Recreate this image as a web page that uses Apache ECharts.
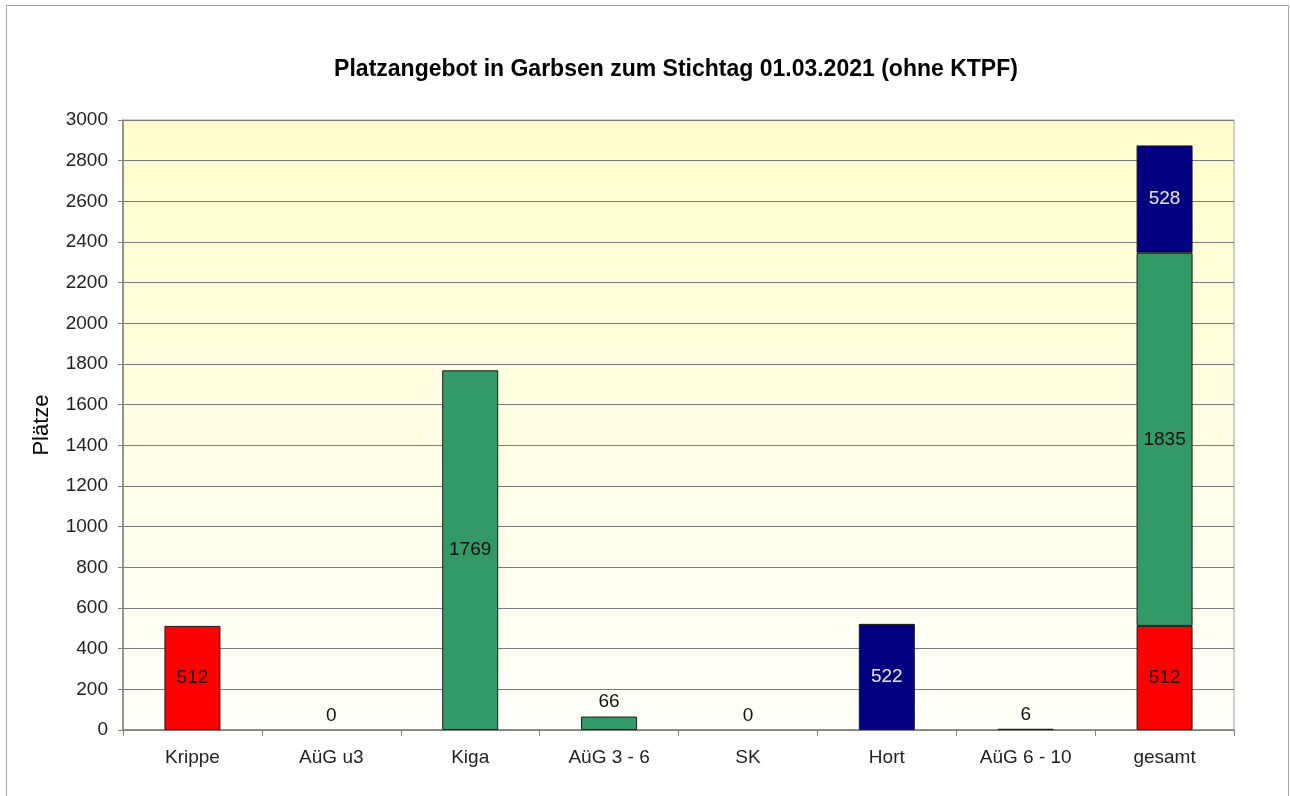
<!DOCTYPE html>
<html>
<head>
<meta charset="utf-8">
<script src="https://cdn.jsdelivr.net/npm/echarts@6/dist/echarts.min.js"></script>
<style>
	body { margin: 0; background: #fff; }
	#frame { position: absolute; left: 6px; top: 5px; width: 1281px; height: 800px; border: 1px solid #a6a6a6; }
	#main { position: absolute; left: 0; top: 0; width: 1290px; height: 796px; }
</style>
</head>
<body>
<div id="frame"></div>
<div id="main"></div>
<script>
// Kategorien und Werte
var categories = ['Krippe', 'AüG u3', 'Kiga', 'AüG 3 - 6', 'SK', 'Hort', 'AüG 6 - 10', 'gesamt'];
var u3Values = [512, 0, null, null, null, null, null, 512];
var kigaValues = [null, null, 1769, 66, 0, null, null, 1835];
var hortValues = [null, null, null, null, null, 522, 6, 528];

var font = 'Liberation Sans, Arial, sans-serif';

// kleine Werte bekommen das Label oberhalb der Säule, 0 ohne Rahmen
function toItems(values) {
	return values.map(function(v) {
		if (v == null) {
			return '-';
		}
		if (v == 0) {
			return { value: v, itemStyle: { borderWidth: 0 }, label: { position: 'top', color: '#111' } };
		}
		if (v < 150) {
			return { value: v, label: { position: 'top', color: '#111' } };
		}
		return v;
	});
}

function barSeries(name, values, color, labelColor) {
	return {
		name: name,
		type: 'bar',
		stack: 'platz',
		barWidth: 56,
		data: toItems(values),
		itemStyle: { color: color, borderColor: '#1a1a1a', borderWidth: 1 },
		label: {
			show: true,
			position: 'inside',
			color: labelColor,
			fontFamily: font,
			fontSize: 19
		}
	};
}

var myChart = echarts.init(document.getElementById('main'));
var option = {
	animation: false,
	title: {
		text: 'Platzangebot in Garbsen zum Stichtag 01.03.2021 (ohne KTPF)',
		left: 671,
		textAlign: 'center',
		top: 53,
		textStyle: { fontFamily: font, fontSize: 23, fontWeight: 'bold', color: '#000' }
	},
	grid: {
		left: 123,
		right: 56,
		top: 120,
		bottom: 66,
		show: true,
		borderColor: '#a0a0a0',
		borderWidth: 1,
		backgroundColor: {
			type: 'linear', x: 0, y: 0, x2: 0, y2: 1,
			colorStops: [
				{ offset: 0, color: '#fffdcc' },
				{ offset: 1, color: '#fffffb' }
			]
		}
	},
	xAxis: {
		type: 'category',
		data: categories,
		axisLine: { lineStyle: { color: '#808080', width: 1.5 } },
		axisTick: { show: true, length: 6, lineStyle: { color: '#808080' } },
		axisLabel: { fontFamily: font, fontSize: 19, color: '#222', margin: 18 }
	},
	yAxis: {
		type: 'value',
		min: 0,
		max: 3000,
		interval: 200,
		name: 'Plätze',
		nameLocation: 'middle',
		nameGap: 70,
		nameTextStyle: { fontFamily: font, fontSize: 22, color: '#000' },
		axisLine: { show: true, lineStyle: { color: '#808080', width: 1.5 } },
		axisTick: { show: true, length: 5, lineStyle: { color: '#808080' } },
		axisLabel: {
			fontFamily: font, fontSize: 19, color: '#222', margin: 15,
			formatter: function(value) {
				return '' + value;
			}
		},
		splitLine: { lineStyle: { color: '#7a7a7a', width: 1.2 } }
	},
	series: [
		barSeries('u3', u3Values, '#ff0000', '#2a0000'),
		barSeries('Kiga', kigaValues, '#339966', '#111'),
		barSeries('Hort', hortValues, '#000080', '#e8e8e8')
	]
};
myChart.setOption(option);
</script>
</body>
</html>
